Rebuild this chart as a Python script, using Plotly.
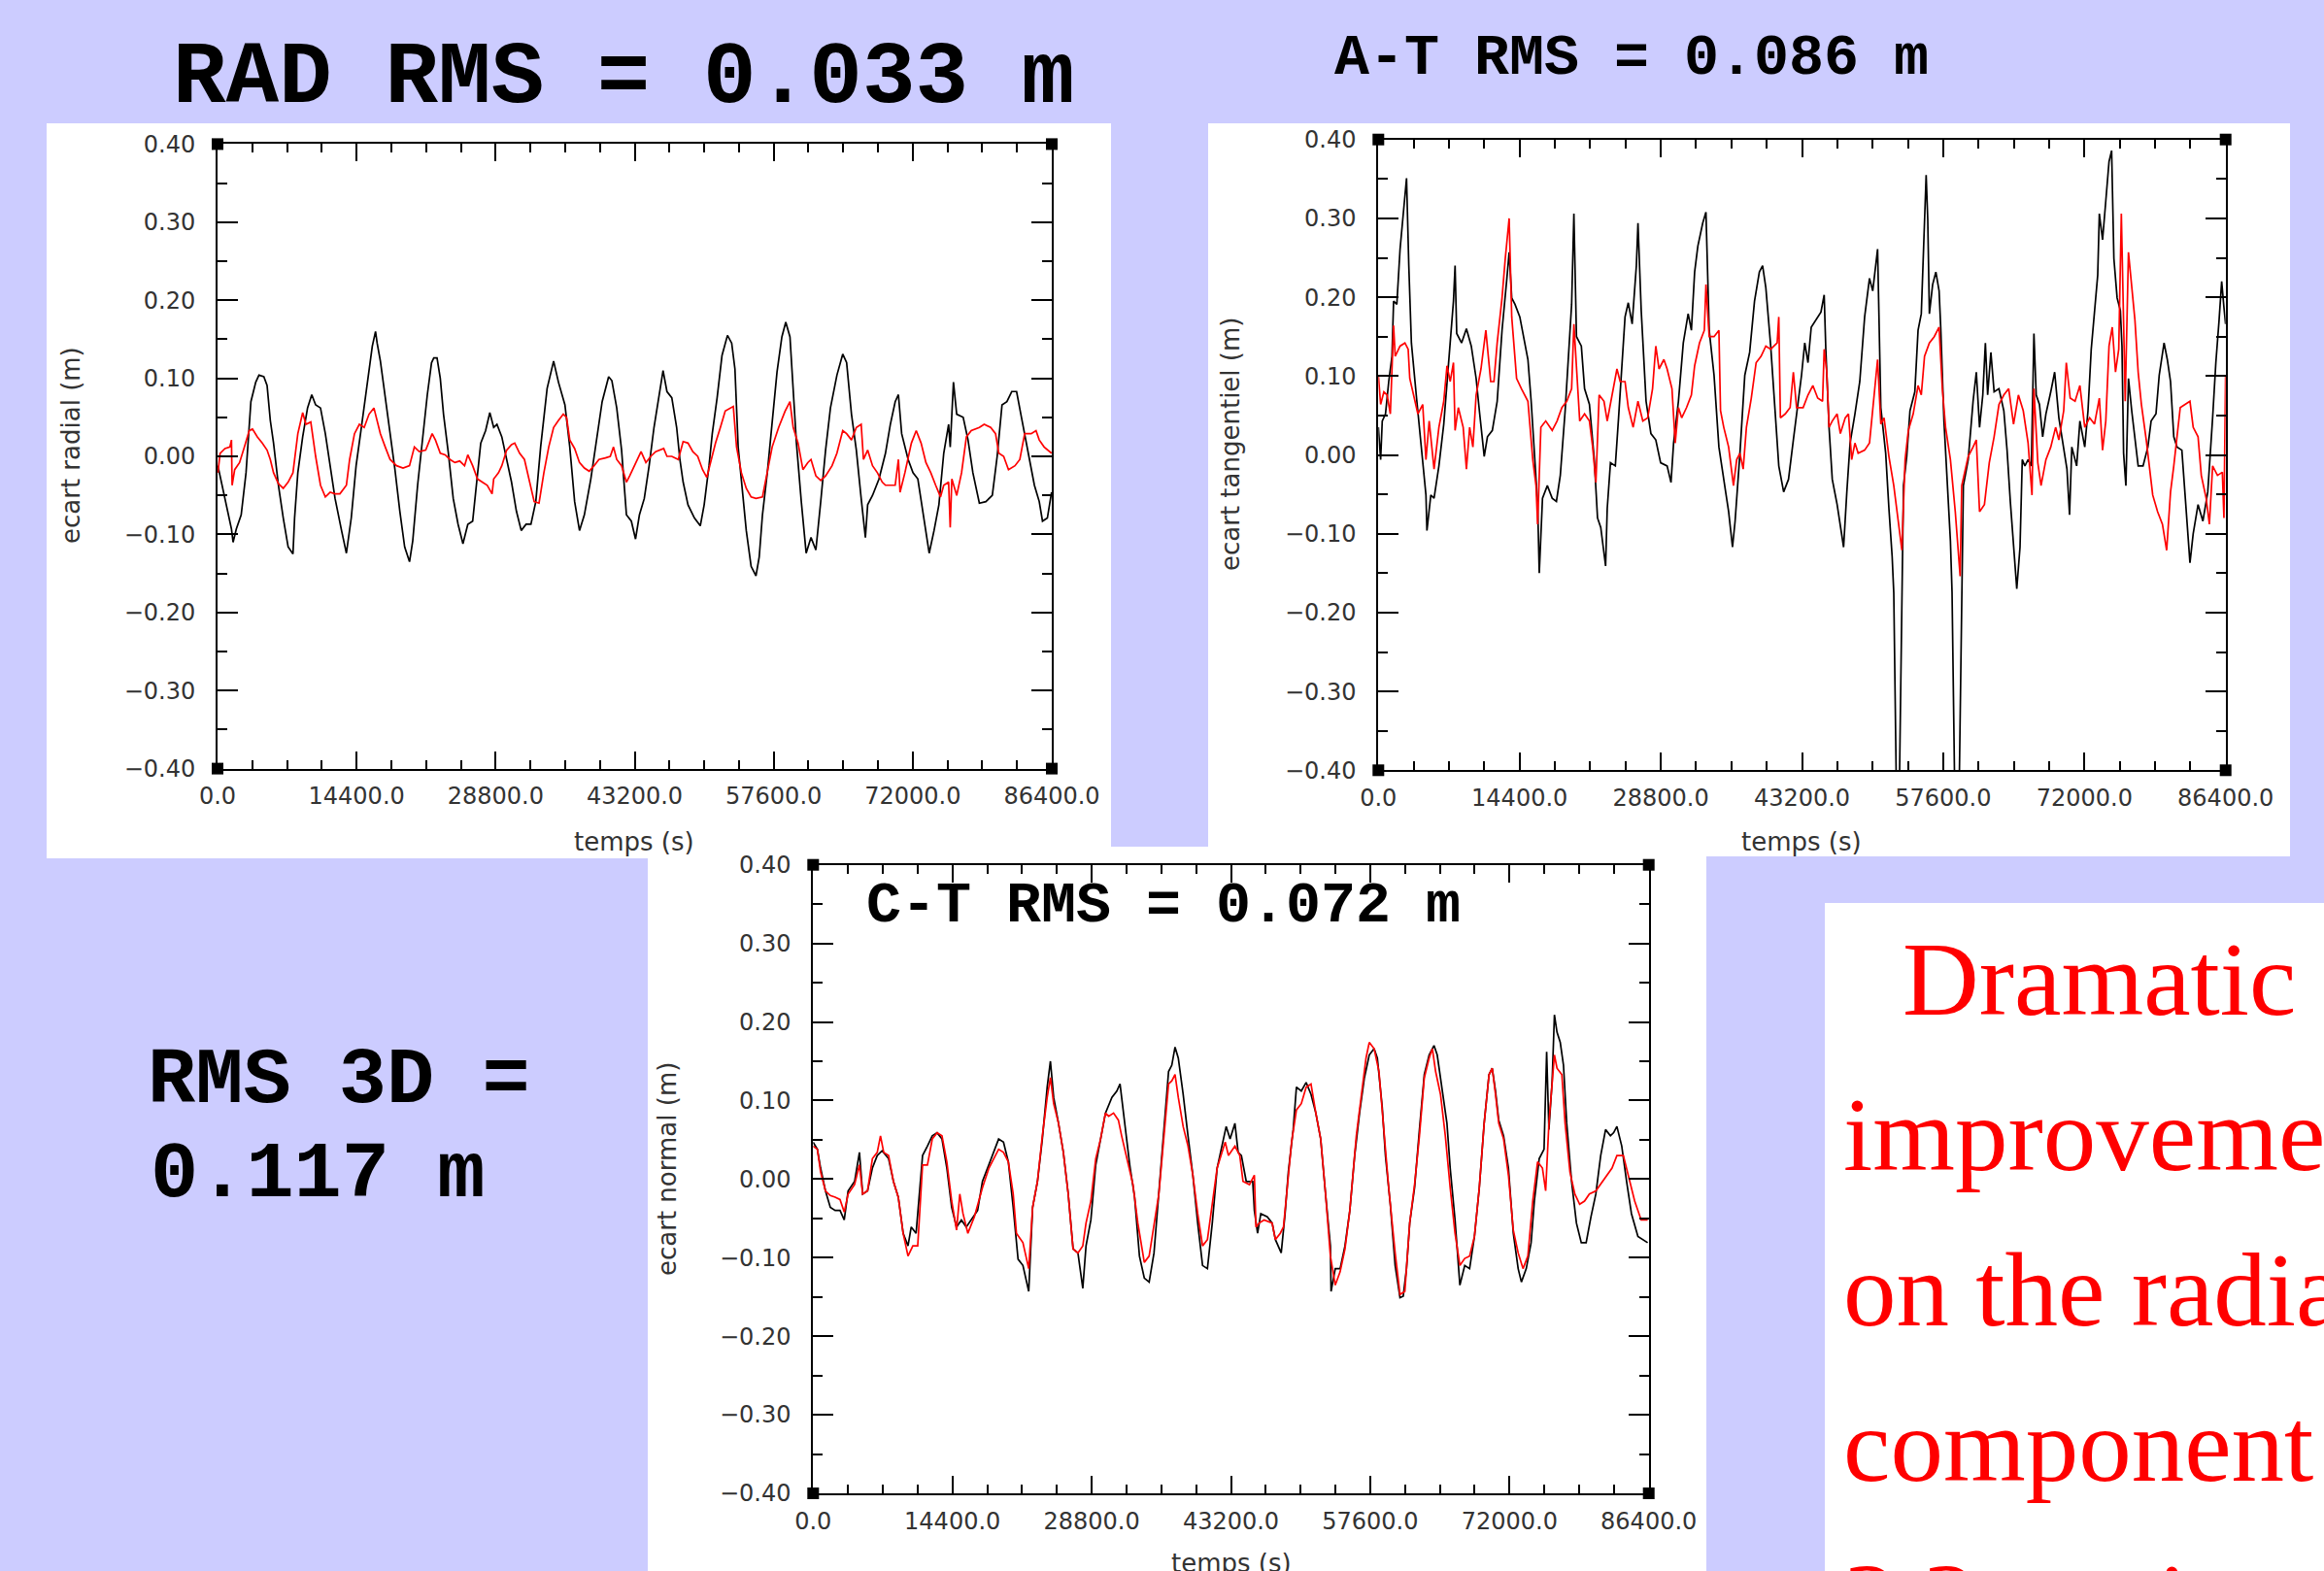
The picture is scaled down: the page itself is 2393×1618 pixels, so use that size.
import plotly.graph_objects as go

# ---------------- data (time in s, deviation in m) ----------------
rad_black = [(34,-0.012),(771,-0.054),(1442,-0.093),(1609,-0.110),(1945,-0.093),(2448,-0.075),(2951,-0.021),(3454,0.070),(3957,0.095),(4292,0.104),(4795,0.102),(5130,0.091),(5465,0.046),(5801,0.017),(6304,-0.037),(6807,-0.079),(7310,-0.116),(7812,-0.125),(7980,-0.079),(8315,-0.021),(8818,0.025),(9321,0.062),(9757,0.079),(10160,0.066),(10663,0.062),(11165,0.029),(11668,-0.012),(12171,-0.054),(12842,-0.095),(13345,-0.124),(13848,-0.079),(14351,-0.012),(14854,0.033),(15524,0.095),(16027,0.141),(16363,0.160),(16530,0.145),(16866,0.122),(17369,0.075),(17871,0.033),(18374,-0.017),(18877,-0.070),(19380,-0.116),(19883,-0.135),(20219,-0.108),(20722,-0.037),(21225,0.021),(21727,0.079),(22163,0.120),(22398,0.126),(22733,0.126),(23069,0.100),(23404,0.054),(23907,0.004),(24410,-0.054),(24913,-0.087),(25416,-0.112),(25919,-0.087),(26422,-0.083),(26757,-0.041),(27260,0.017),(27763,0.033),(28199,0.056),(28601,0.037),(28937,0.041),(29440,0.025),(29943,-0.004),(30446,-0.033),(30949,-0.070),(31452,-0.095),(31955,-0.087),(32458,-0.087),(32960,-0.058),(33463,0.012),(34134,0.087),(34805,0.122),(35308,0.095),(35978,0.066),(36481,0.012),(36984,-0.058),(37487,-0.095),(37990,-0.075),(38661,-0.029),(39331,0.029),(39834,0.070),(40505,0.102),(40840,0.097),(41343,0.062),(41846,0.008),(42349,-0.075),(42856,-0.083),(43292,-0.106),(43694,-0.075),(44197,-0.054),(44700,-0.012),(45203,0.037),(45706,0.075),(46142,0.110),(46544,0.083),(47047,0.075),(47550,0.037),(47885,-0.004),(48221,-0.033),(48724,-0.062),(49394,-0.079),(49998,-0.089),(50400,-0.062),(50903,-0.012),(51238,0.029),(51741,0.075),(52244,0.129),(52814,0.155),(53250,0.145),(53586,0.112),(53921,0.012),(54256,-0.029),(54759,-0.095),(55262,-0.141),(55765,-0.153),(56100,-0.129),(56436,-0.075),(56939,-0.021),(57442,0.046),(57944,0.108),(58447,0.153),(58850,0.172),(59286,0.153),(59621,0.079),(59956,0.017),(60459,-0.058),(60962,-0.124),(61465,-0.104),(61968,-0.120),(62471,-0.058),(62974,0.008),(63477,0.062),(64148,0.104),(64751,0.131),(65153,0.120),(65656,0.054),(66159,0.008),(66662,-0.054),(67098,-0.104),(67333,-0.062),(67836,-0.050),(68507,-0.029),(69177,0.004),(69680,0.041),(70183,0.070),(70518,0.079),(70854,0.029),(71524,-0.004),(72027,-0.021),(72530,-0.029),(73033,-0.070),(73704,-0.124),(74207,-0.095),(74710,-0.062),(75212,0.004),(75715,0.041),(75883,0.012),(76218,0.095),(76554,0.054),(77224,0.050),(77727,0.021),(78230,-0.021),(78901,-0.060),(79571,-0.058),(80242,-0.050),(80745,0.000),(81248,0.066),(81751,0.070),(82254,0.083),(82757,0.083),(83260,0.050),(83930,0.004),(84601,-0.037),(85104,-0.058),(85439,-0.083),(85942,-0.079),(86378,-0.046)]

rad_red = [(34,-0.021),(268,0.004),(771,0.010),(1274,0.012),(1442,0.021),(1509,-0.037),(1777,-0.017),(2280,-0.008),(2783,0.012),(3286,0.033),(3621,0.035),(4124,0.025),(4627,0.017),(5130,0.008),(5465,-0.004),(5801,-0.021),(6304,-0.035),(6807,-0.041),(7310,-0.033),(7812,-0.021),(8315,0.029),(8818,0.056),(9154,0.041),(9657,0.044),(10160,0.000),(10663,-0.037),(11165,-0.052),(11668,-0.046),(12171,-0.048),(12674,-0.048),(13345,-0.037),(13680,-0.004),(14183,0.029),(14686,0.041),(15189,0.037),(15692,0.054),(16195,0.062),(16530,0.046),(16866,0.029),(17369,0.012),(17871,-0.004),(18542,-0.012),(19213,-0.015),(19883,-0.012),(20386,0.012),(20889,0.006),(21560,0.008),(22230,0.029),(22566,0.021),(23069,0.004),(23572,0.002),(24075,-0.004),(24578,-0.008),(25081,-0.006),(25584,-0.012),(25919,0.002),(26422,-0.012),(26925,-0.029),(27428,-0.033),(27931,-0.037),(28434,-0.048),(28601,-0.029),(29104,-0.021),(29440,-0.012),(29943,0.008),(30446,0.015),(30781,0.017),(31284,0.004),(31787,-0.004),(32290,-0.033),(32793,-0.058),(33296,-0.060),(33799,-0.021),(34302,0.012),(34805,0.037),(35308,0.046),(35811,0.054),(36146,0.050),(36481,0.021),(36984,0.010),(37487,-0.008),(37990,-0.015),(38493,-0.019),(38996,-0.012),(39499,-0.004),(40170,-0.002),(40672,0.000),(41008,0.012),(41343,-0.004),(41846,-0.012),(42349,-0.033),(42684,-0.025),(43359,-0.008),(43862,0.006),(44365,-0.008),(44868,0.000),(45371,0.006),(45706,0.008),(46209,0.010),(46544,0.000),(47047,0.000),(47718,-0.004),(48221,0.019),(48724,0.017),(49227,0.006),(49730,0.000),(50233,-0.017),(50668,-0.027),(51071,-0.008),(51574,0.017),(52077,0.037),(52580,0.058),(53418,0.064),(53753,0.012),(54256,-0.021),(54759,-0.041),(55262,-0.052),(55765,-0.054),(56436,-0.052),(56939,-0.021),(57442,0.012),(58112,0.037),(58783,0.058),(59286,0.070),(59621,0.037),(60124,0.017),(60627,-0.017),(61130,-0.008),(61465,-0.004),(61968,-0.025),(62471,-0.031),(62974,-0.025),(63645,-0.012),(64148,0.004),(64751,0.033),(65153,0.029),(65656,0.021),(66159,0.037),(66662,0.041),(66897,-0.004),(67333,0.008),(67836,-0.012),(68339,-0.021),(68842,-0.033),(69177,-0.037),(69680,-0.037),(70183,-0.037),(70518,-0.004),(70686,-0.046),(71189,-0.021),(71860,0.017),(72363,0.033),(72866,0.017),(73368,-0.008),(73871,-0.021),(74374,-0.037),(74877,-0.052),(75212,-0.037),(75715,-0.033),(75883,-0.091),(76051,-0.029),(76554,-0.050),(77057,-0.021),(77559,0.025),(78062,0.033),(78901,0.037),(79404,0.041),(80074,0.037),(80577,0.029),(80913,0.004),(81416,0.000),(81919,-0.017),(82589,-0.012),(83092,-0.004),(83595,0.029),(84266,0.029),(84769,0.033),(85104,0.021),(85607,0.012),(86378,0.004)]

at_black = [(0,0.035),(231,-0.006),(396,0.043),(726,0.052),(1056,0.093),(1386,0.125),(1551,0.195),(1882,0.191),(2212,0.261),(2542,0.302),(2872,0.351),(3103,0.240),(3367,0.142),(3862,0.076),(4357,0.010),(4852,-0.051),(4952,-0.096),(5348,-0.051),(5678,-0.055),(6173,-0.014),(6668,0.039),(7163,0.117),(7658,0.195),(7823,0.240),(7988,0.154),(8484,0.142),(8979,0.160),(9474,0.138),(9969,0.097),(10299,0.056),(10794,-0.002),(11124,0.023),(11620,0.031),(12115,0.068),(12610,0.158),(13105,0.224),(13336,0.257),(13600,0.199),(13930,0.191),(14425,0.175),(14755,0.154),(15251,0.121),(15581,0.068),(15911,0.006),(16241,-0.063),(16406,-0.150),(16736,-0.055),(17231,-0.039),(17726,-0.055),(18156,-0.059),(18552,-0.026),(19047,0.056),(19377,0.121),(19707,0.191),(19938,0.306),(20202,0.150),(20697,0.138),(21027,0.084),(21523,0.064),(22018,-0.006),(22348,-0.080),(22678,-0.092),(23173,-0.141),(23338,-0.068),(23668,-0.010),(24163,-0.014),(24493,0.047),(24824,0.117),(25154,0.175),(25484,0.193),(25880,0.166),(26309,0.240),(26474,0.294),(26804,0.183),(27299,0.068),(27794,0.027),(28290,0.019),(28785,-0.010),(29445,-0.014),(29841,-0.035),(30105,0.015),(30600,0.068),(31095,0.142),(31591,0.179),(31921,0.158),(32251,0.232),(32581,0.265),(33076,0.294),(33406,0.308),(33736,0.158),(34231,0.101),(34727,0.010),(35222,-0.031),(35717,-0.072),(36113,-0.117),(36377,-0.084),(36872,0.002),(37367,0.101),(37862,0.130),(38358,0.195),(38853,0.232),(39183,0.240),(39513,0.212),(40008,0.138),(40503,0.047),(40833,-0.014),(41329,-0.047),(41824,-0.031),(42319,0.019),(42649,0.052),(43151,0.101),(43481,0.142),(43812,0.117),(44142,0.162),(44637,0.171),(45132,0.181),(45462,0.203),(45627,0.134),(45957,0.035),(46287,-0.031),(46782,-0.063),(47113,-0.088),(47443,-0.117),(47773,-0.047),(48103,0.015),(48598,0.052),(49093,0.093),(49588,0.175),(50083,0.224),(50414,0.208),(50909,0.261),(51239,0.060),(51734,0.002),(52064,-0.068),(52394,-0.129),(52559,-0.175),(52850,-0.450),(53100,-0.450),(53384,-0.175),(53550,-0.039),(53880,-0.002),(54211,0.056),(54706,0.080),(55036,0.158),(55366,0.179),(55630,0.273),(55861,0.355),(56025,0.298),(56191,0.179),(56521,0.216),(56851,0.232),(57181,0.208),(57346,0.162),(57676,0.043),(58006,-0.031),(58336,-0.109),(58501,-0.174),(58800,-0.450),(59200,-0.450),(59491,-0.174),(59656,-0.039),(60151,-0.006),(60647,0.068),(60977,0.105),(61307,0.035),(61637,0.076),(61901,0.142),(62132,0.076),(62462,0.130),(62792,0.080),(63287,0.084),(63783,0.056),(64113,0.006),(64443,-0.059),(64773,-0.121),(65103,-0.170),(65433,-0.117),(65664,-0.006),(65928,-0.014),(66258,-0.006),(66588,-0.014),(66852,0.154),(67084,0.076),(67414,0.064),(67744,0.023),(68074,0.052),(68569,0.080),(68965,0.105),(69395,0.047),(69890,0.010),(70220,-0.018),(70484,-0.076),(70715,0.010),(71210,-0.014),(71540,0.043),(72035,0.010),(72365,0.056),(72695,0.134),(73026,0.179),(73356,0.228),(73521,0.306),(73851,0.273),(74181,0.322),(74511,0.372),(74775,0.386),(75006,0.249),(75336,0.199),(75666,0.183),(75831,0.138),(75996,0.002),(76229,-0.039),(76493,0.097),(76823,0.056),(77153,0.019),(77483,-0.014),(77978,-0.014),(78472,0.010),(78803,0.043),(79298,0.052),(79628,0.101),(80123,0.142),(80453,0.121),(80783,0.093),(81113,0.023),(81443,0.010),(81938,0.006),(82268,-0.051),(82598,-0.109),(82763,-0.137),(83093,-0.100),(83589,-0.063),(84084,-0.084),(84579,-0.047),(85074,0.047),(85404,0.117),(85734,0.171),(85998,0.220),(86229,0.187),(86394,0.166)]

at_red = [(0,0.101),(231,0.064),(561,0.080),(891,0.076),(1221,0.052),(1551,0.164),(1717,0.125),(2212,0.138),(2707,0.142),(3037,0.134),(3202,0.097),(3697,0.068),(4027,0.052),(4521,0.064),(4852,-0.006),(5182,0.043),(5678,-0.018),(6173,0.035),(6668,0.068),(6998,0.113),(7328,0.093),(7658,0.117),(7823,0.031),(8153,0.060),(8649,0.035),(8979,-0.018),(9309,0.035),(9639,0.010),(9969,0.076),(10464,0.109),(10959,0.158),(11454,0.093),(11785,0.093),(12115,0.142),(12610,0.199),(12940,0.249),(13336,0.300),(13600,0.175),(14095,0.097),(14590,0.084),(15251,0.068),(15746,-0.006),(16076,-0.039),(16241,-0.088),(16571,0.035),(17066,0.043),(17726,0.031),(18222,0.043),(18717,0.060),(19212,0.068),(19707,0.084),(19938,0.166),(20202,0.109),(20532,0.043),(21027,0.052),(21523,0.043),(21853,0.010),(22183,-0.035),(22513,0.076),(23008,0.068),(23338,0.043),(23833,0.076),(24328,0.109),(24658,0.093),(25154,0.093),(25484,0.060),(25979,0.035),(26474,0.068),(26969,0.043),(27464,0.047),(27959,0.084),(28290,0.138),(28620,0.109),(29115,0.121),(29445,0.109),(29940,0.084),(30270,0.015),(30600,0.060),(30930,0.047),(31426,0.060),(31921,0.076),(32251,0.113),(32746,0.142),(33241,0.158),(33406,0.216),(33736,0.150),(34231,0.150),(34727,0.158),(34892,0.056),(35222,0.035),(35717,0.010),(36212,-0.039),(36542,-0.006),(36872,0.002),(37202,-0.018),(37532,0.035),(38028,0.072),(38523,0.117),(39018,0.125),(39513,0.138),(40008,0.134),(40668,0.142),(40833,0.175),(40998,0.047),(41494,0.052),(41989,0.060),(42319,0.105),(42649,0.060),(43316,0.060),(43812,0.076),(44307,0.088),(44802,0.072),(45297,0.068),(45462,0.134),(45726,0.105),(45957,0.035),(46287,0.043),(46782,0.052),(47113,0.027),(47608,0.047),(47938,0.052),(48268,-0.006),(48598,0.015),(48928,0.002),(49588,0.006),(50083,0.015),(50579,0.076),(50909,0.121),(51239,0.039),(51569,0.047),(52064,-0.002),(52559,-0.039),(53054,-0.088),(53384,-0.121),(53715,-0.006),(54045,0.031),(54540,0.052),(55036,0.088),(55366,0.076),(55696,0.125),(56191,0.142),(56686,0.150),(57181,0.162),(57511,0.084),(57841,0.035),(58336,-0.006),(58831,-0.072),(59161,-0.121),(59326,-0.154),(59491,-0.039),(59821,-0.022),(60151,-0.002),(60647,0.010),(60977,0.019),(61307,-0.072),(61802,-0.063),(62297,-0.010),(62792,0.023),(63287,0.064),(63783,0.076),(64278,0.084),(64773,0.039),(65268,0.076),(65763,0.056),(66258,0.015),(66654,-0.051),(66852,0.084),(67248,-0.010),(67578,-0.039),(68074,-0.006),(68569,0.010),(69064,0.035),(69394,0.019),(69889,0.056),(70153,0.117),(70550,0.072),(71045,0.068),(71540,0.088),(72035,0.035),(72530,0.047),(73026,0.039),(73521,0.072),(73851,0.006),(74181,0.043),(74511,0.138),(74841,0.162),(75171,0.105),(75501,0.134),(75765,0.306),(75996,0.158),(76161,0.068),(76491,0.257),(76822,0.216),(77152,0.171),(77482,0.105),(77812,0.064),(78307,0.019),(78637,-0.014),(78967,-0.051),(79462,-0.072),(79957,-0.088),(80387,-0.121),(80783,-0.047),(81113,-0.014),(81443,0.027),(81773,0.060),(82268,0.064),(82763,0.068),(83093,0.035),(83589,0.023),(83919,-0.026),(84414,-0.055),(84744,-0.088),(85074,-0.014),(85569,-0.026),(86064,-0.022),(86229,-0.080),(86394,0.101)]

ct_black = [(0,0.047),(435,0.038),(770,0.014),(1272,-0.015),(1774,-0.036),(2276,-0.040),(2778,-0.040),(3213,-0.052),(3615,-0.015),(4284,-0.003),(4786,0.034),(5121,-0.019),(5623,-0.015),(6125,0.014),(6627,0.030),(7129,0.036),(7799,0.026),(8301,-0.003),(8803,-0.023),(9305,-0.069),(9807,-0.085),(10141,-0.061),(10643,-0.069),(10978,-0.019),(11313,0.030),(11815,0.042),(12317,0.055),(12819,0.059),(13321,0.051),(13823,0.014),(14325,-0.036),(14827,-0.061),(15329,-0.052),(15831,-0.061),(16333,-0.052),(17003,-0.040),(17505,-0.003),(18174,0.018),(18676,0.034),(19178,0.051),(19680,0.047),(20182,0.022),(20684,-0.036),(21187,-0.102),(21689,-0.110),(22291,-0.143),(22693,-0.036),(23195,-0.003),(23697,0.051),(24199,0.117),(24533,0.150),(24868,0.104),(25370,0.071),(25872,0.034),(26374,-0.019),(26876,-0.089),(27378,-0.094),(27880,-0.139),(28215,-0.085),(28717,-0.052),(29219,0.018),(29721,0.051),(30223,0.084),(30893,0.104),(31395,0.112),(31730,0.121),(32232,0.071),(32734,0.018),(33236,-0.023),(33738,-0.098),(34240,-0.126),(34742,-0.131),(35244,-0.094),(35746,-0.019),(36248,0.051),(36750,0.137),(37085,0.145),(37419,0.168),(37754,0.154),(38256,0.108),(38758,0.055),(39261,0.005),(39763,-0.056),(40265,-0.110),(40767,-0.114),(41269,-0.056),(41771,0.014),(42273,0.042),(42708,0.067),(43110,0.051),(43610,0.071),(43945,0.034),(44280,0.030),(44782,-0.003),(45451,-0.003),(45619,-0.040),(45953,-0.069),(46288,-0.044),(46957,-0.048),(47460,-0.056),(47794,-0.077),(48397,-0.094),(48798,-0.044),(49133,0.009),(49635,0.063),(49970,0.117),(50472,0.112),(50974,0.123),(51476,0.108),(51978,0.084),(52480,0.051),(52982,-0.019),(53484,-0.085),(53551,-0.143),(53986,-0.114),(54488,-0.114),(54990,-0.085),(55492,-0.040),(55994,0.030),(56496,0.084),(56998,0.129),(57501,0.158),(58003,0.166),(58337,0.154),(58839,0.092),(59174,0.030),(59676,-0.032),(60178,-0.110),(60680,-0.151),(61015,-0.149),(61350,-0.114),(61684,-0.056),(62186,-0.011),(62688,0.063),(63191,0.133),(63693,0.158),(64195,0.170),(64529,0.158),(64864,0.129),(65533,0.071),(65868,0.014),(66370,-0.052),(66872,-0.135),(67374,-0.110),(67876,-0.114),(68378,-0.073),(68880,-0.011),(69382,0.071),(69884,0.133),(70219,0.141),(70554,0.112),(70889,0.075),(71391,0.055),(71893,0.014),(72396,-0.069),(72898,-0.114),(73232,-0.131),(73734,-0.114),(74236,-0.081),(74571,-0.028),(75073,0.026),(75575,0.038),(75843,0.162),(76077,0.063),(76412,0.125),(76646,0.209),(76914,0.187),(77249,0.174),(77583,0.145),(77918,0.071),(78420,-0.003),(78922,-0.056),(79424,-0.081),(79926,-0.081),(80428,-0.048),(80930,-0.019),(81432,0.030),(81935,0.063),(82437,0.055),(82771,0.059),(83106,0.067),(83608,0.042),(84110,-0.003),(84612,-0.044),(85281,-0.073),(85783,-0.077),(86286,-0.081)]

ct_red = [(0,0.042),(435,0.038),(770,0.009),(1272,-0.015),(1774,-0.021),(2276,-0.023),(2778,-0.026),(3213,-0.042),(3615,-0.019),(4284,-0.007),(4786,0.018),(5121,-0.019),(5623,-0.015),(6125,0.026),(6627,0.034),(6962,0.055),(7296,0.034),(7799,0.030),(8301,-0.003),(8803,-0.023),(9305,-0.069),(9807,-0.098),(10309,-0.085),(10811,-0.085),(11313,0.018),(11815,0.018),(12317,0.051),(12819,0.059),(13321,0.055),(13823,0.022),(14325,-0.028),(14827,-0.065),(15162,-0.019),(15496,-0.044),(15998,-0.069),(16668,-0.048),(17505,-0.011),(18174,0.014),(18676,0.026),(19178,0.038),(19680,0.034),(20182,0.022),(20684,-0.019),(21019,-0.069),(21689,-0.081),(22291,-0.114),(22693,-0.036),(23195,-0.003),(23697,0.055),(24199,0.104),(24533,0.129),(24868,0.096),(25370,0.071),(25872,0.034),(26374,-0.019),(26876,-0.089),(27378,-0.094),(27880,-0.085),(28215,-0.056),(28717,-0.028),(29219,0.026),(29721,0.051),(30223,0.084),(30558,0.080),(31060,0.084),(31562,0.075),(31897,0.055),(32399,0.030),(33069,-0.007),(33571,-0.056),(34240,-0.106),(34742,-0.098),(35244,-0.061),(35746,-0.019),(36248,0.051),(36750,0.121),(37085,0.125),(37419,0.133),(37754,0.104),(38256,0.067),(38758,0.042),(39261,0.005),(39763,-0.044),(40265,-0.085),(40767,-0.077),(41269,-0.028),(41771,0.014),(42273,0.034),(42608,0.047),(42943,0.030),(43610,0.042),(44113,0.030),(44447,-0.003),(45117,-0.007),(45619,0.005),(45786,-0.061),(46121,-0.056),(46623,-0.052),(47460,-0.056),(47794,-0.077),(48297,-0.069),(48631,-0.061),(48966,-0.015),(49468,0.047),(49970,0.088),(50472,0.096),(50974,0.117),(51476,0.121),(51978,0.084),(52480,0.051),(52982,-0.019),(53484,-0.098),(53986,-0.135),(54488,-0.118),(54990,-0.089),(55492,-0.040),(56161,0.055),(56664,0.108),(57166,0.154),(57501,0.174),(58003,0.166),(58505,0.137),(59007,0.063),(59509,-0.011),(60178,-0.094),(60680,-0.147),(61182,-0.143),(61684,-0.056),(62186,-0.007),(62688,0.055),(63191,0.129),(63693,0.154),(64028,0.166),(64362,0.137),(64864,0.108),(65366,0.055),(65868,-0.011),(66370,-0.069),(66872,-0.110),(67374,-0.101),(67876,-0.098),(68378,-0.073),(68880,-0.011),(69382,0.071),(69884,0.133),(70219,0.141),(70554,0.108),(70889,0.071),(71391,0.051),(71893,0.005),(72396,-0.065),(72898,-0.094),(73400,-0.114),(73902,-0.098),(74404,-0.028),(74906,0.022),(75408,0.014),(75742,-0.015),(76077,0.071),(76412,0.121),(76646,0.158),(76914,0.141),(77416,0.133),(77750,0.071),(78253,0.009),(78755,-0.019),(79257,-0.032),(79759,-0.028),(80261,-0.019),(80930,-0.015),(81599,-0.003),(82101,0.005),(82603,0.014),(83106,0.030),(83775,0.030),(84277,0.005),(84946,-0.028),(85616,-0.052),(86286,-0.052)]

y_titles = ["ecart radial (m)", "ecart tangentiel (m)", "ecart normal (m)"]
x_title = "temps (s)"
rms_titles = ["RAD RMS = 0.033 m", "A-T RMS = 0.086 m", "C-T RMS = 0.072 m"]
rms3d_lines = ["RMS 3D =", "0.117 m"]
note_lines = ["Dramatic", "improvement", "on the radial", "component", "3.3 cm instead of"]

# ---------------- layout geometry (screen pixels) ----------------
W, H = 2393, 1618
def px(x): return x / W
def py(y): return 1 - y / H

BG = "#CCCCFF"
# plot areas: left, right, top, bottom
areas = [(224.0, 1083.0, 148.4, 791.6),
         (1419.3, 2291.7, 143.7, 793.3),
         (837.3, 1697.7, 890.7, 1538.0)]
white_boxes = [(48, 1144, 127, 884), (1244, 2358, 127, 882),
               (667, 1757, 872, 1630), (1879, 2400, 930, 1630)]

fig = go.Figure()
series = [(rad_black, rad_red), (at_black, at_red), (ct_black, ct_red)]
for i, (blk, red) in enumerate(series):
    sfx = "" if i == 0 else str(i + 1)
    for s, col in ((blk, "#000000"), (red, "#FF0000")):
        fig.add_trace(go.Scatter(
            x=[a for a, b in s], y=[b for a, b in s], mode="lines",
            line=dict(color=col, width=1.7), xaxis="x" + sfx, yaxis="y" + sfx,
            showlegend=False, hoverinfo="skip"))

tickfont = dict(family="DejaVu Sans", size=24, color="#333333")
layout_axes = {}
for i, (l, r, t, b) in enumerate(areas):
    sfx = "" if i == 0 else str(i + 1)
    layout_axes["xaxis" + sfx] = dict(
        domain=[px(l), px(r)], anchor="y" + sfx, range=[0, 86400],
        tick0=0, dtick=14400, tickformat=".1f", ticks="inside", ticklen=18,
        tickwidth=2, tickcolor="black", showline=True, linecolor="black",
        linewidth=2, mirror="ticks", showgrid=False, zeroline=False,
        automargin=False, tickfont=tickfont, ticklabelstandoff=6,
        minor=dict(dtick=3600, ticks="inside", ticklen=9, tickwidth=2,
                   tickcolor="black", showgrid=False))
    layout_axes["yaxis" + sfx] = dict(
        domain=[py(b), py(t)], anchor="x" + sfx, range=[-0.4, 0.4],
        tick0=0, dtick=0.1, tickformat=".2f", ticks="inside", ticklen=21,
        tickwidth=2, tickcolor="black", showline=True, linecolor="black",
        linewidth=2, mirror="ticks", showgrid=False, zeroline=False,
        automargin=False, tickfont=tickfont, ticklabelstandoff=16,
        minor=dict(dtick=0.05, ticks="inside", ticklen=10, tickwidth=2,
                   tickcolor="black", showgrid=False))

shapes = []
for (x0, x1, y0, y1) in white_boxes:
    shapes.append(dict(type="rect", xref="paper", yref="paper",
                       x0=px(x0), x1=px(x1), y0=py(y1), y1=py(y0),
                       fillcolor="white", line=dict(width=0), layer="below"))
for (l, r, t, b) in areas:
    for cx in (l, r):
        for cy in (t, b):
            shapes.append(dict(type="rect", xref="paper", yref="paper",
                               xsizemode="pixel", ysizemode="pixel",
                               xanchor=px(cx), yanchor=py(cy),
                               x0=-6, x1=6, y0=-6, y1=6,
                               fillcolor="black", line=dict(width=0), layer="above"))

ann = []
mono = "Liberation Mono, Courier New, monospace"
def add_text(text, x, y, size, family, color="black", anchor="left", angle=0, bold=False):
    ann.append(dict(text=("<b>%s</b>" % text) if bold else text,
                    x=px(x), y=py(y), xref="paper", yref="paper",
                    xanchor=anchor, yanchor="middle", showarrow=False,
                    textangle=angle, font=dict(family=family, size=size, color=color)))

add_text(rms_titles[0], 176, 80, 91, mono, bold=True)
add_text(rms_titles[1], 1372, 59.5, 60, mono, bold=True)
add_text(rms_titles[2], 890, 932.5, 60, mono, bold=True)
add_text(rms3d_lines[0], 150, 1113.5, 82, mono, bold=True)
add_text(rms3d_lines[1], 153, 1210, 82, mono, bold=True)

serif = "Liberation Serif, Times New Roman, serif"
note_x = [1957, 1896, 1896, 1896, 1896]
note_y = [1008, 1168, 1328, 1488, 1648]
for txt, nx, ny in zip(note_lines, note_x, note_y):
    add_text(txt, nx, ny, 109, serif, color="#FF0000")

axfont = "DejaVu Sans"
add_text(y_titles[0], 73, 459, 26, axfont, color="#333333", anchor="center", angle=-90)
add_text(y_titles[1], 1267, 458, 26, axfont, color="#333333", anchor="center", angle=-90)
add_text(y_titles[2], 687, 1204, 26, axfont, color="#333333", anchor="center", angle=-90)
add_text(x_title, 653, 867, 26, axfont, color="#333333", anchor="center")
add_text(x_title, 1855, 867, 26, axfont, color="#333333", anchor="center")
add_text(x_title, 1268, 1610, 26, axfont, color="#333333", anchor="center")

fig.update_layout(template="none", width=W, height=H, autosize=False,
                  margin=dict(l=0, r=0, t=0, b=0, pad=0, autoexpand=False),
                  paper_bgcolor=BG, plot_bgcolor="white",
                  shapes=shapes, annotations=ann, **layout_axes)

# remove the page's default body margin so the figure fills the window exactly
fig.write_html("out.html",
               config={"displayModeBar": False, "staticPlot": True},
               post_script="document.body.style.margin='0';"
                           "document.body.style.padding='0';"
                           "document.body.style.overflow='hidden';")
